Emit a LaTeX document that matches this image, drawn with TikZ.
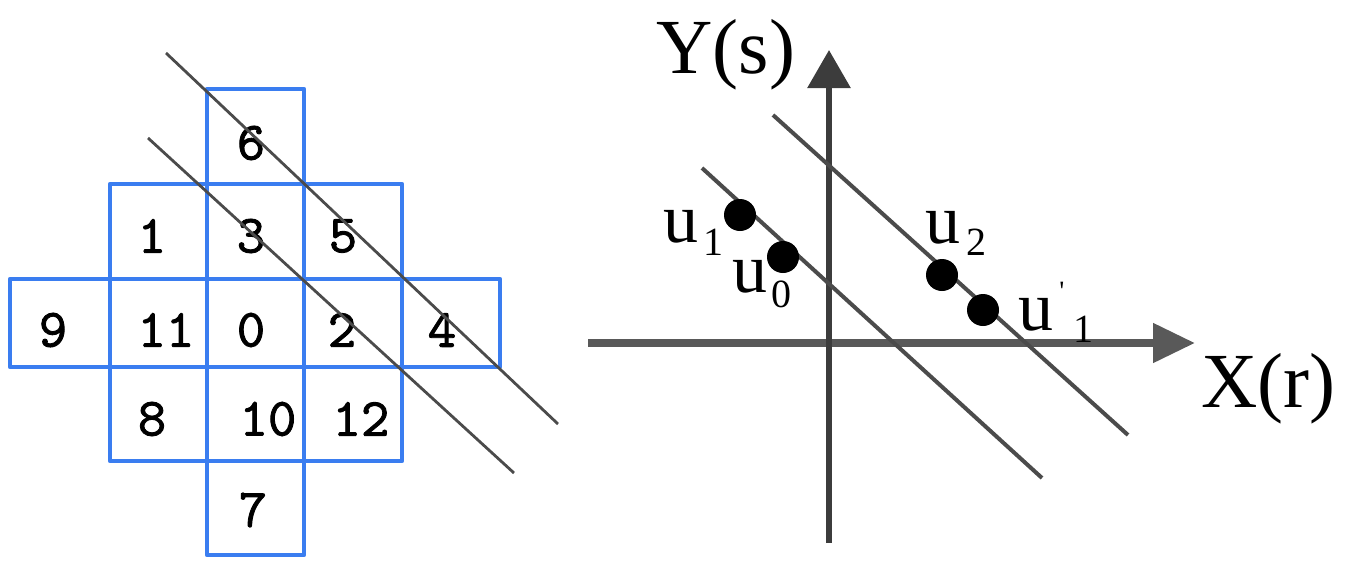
\documentclass[tikz,border=0pt]{standalone}
\usepackage{fontspec}
\setmainfont{Liberation Serif}
\newfontfamily\monob{lmmono10-regular.otf}[FakeBold=1.6]
\usetikzlibrary{arrows.meta}
\definecolor{gridblue}{RGB}{58,125,240}
\definecolor{linegray}{RGB}{75,75,75}
\definecolor{axisgray}{RGB}{60,60,60}
\newcommand\subt[2]{\raisebox{-#1}{\fontsize{20}{20}\selectfont #2}}
\begin{document}
\begin{tikzpicture}[x=0.5pt,y=-0.5pt,
  cell/.style={draw=gridblue, line width=2.2pt, line join=round},
  digit/.style={font=\monob\fontsize{27}{27}\selectfont, inner sep=0},
  diag/.style={draw=linegray, line width=1.4pt},
  rdiag/.style={draw=linegray, line width=2pt},
  xaxis/.style={draw=axisgray!85, line width=4pt, -{Triangle[length=21pt,width=19pt]}},
  yaxis/.style={draw=axisgray, line width=3pt, -{Triangle[length=19pt,width=21pt]}},
  dot/.style={circle, fill=black, minimum size=16pt, inner sep=0},
  lbl/.style={font=\fontsize{35}{35}\selectfont, inner sep=0, anchor=base west},
  axlbl/.style={font=\fontsize{39}{39}\selectfont, inner sep=0, anchor=base west}]
\useasboundingbox (0,0) rectangle (1350,568);

% ---- left: blue grid ----
\draw[cell] (207,89) rectangle (304,184);
\draw[cell] (110,184) rectangle (207,279);
\draw[cell] (207,184) rectangle (304,279);
\draw[cell] (304,184) rectangle (402,279);
\draw[cell] (10,279) rectangle (110,367);
\draw[cell] (110,279) rectangle (207,367);
\draw[cell] (207,279) rectangle (304,367);
\draw[cell] (304,279) rectangle (402,367);
\draw[cell] (402,279) rectangle (500,367);
\draw[cell] (110,367) rectangle (207,461);
\draw[cell] (207,367) rectangle (304,461);
\draw[cell] (304,367) rectangle (402,461);
\draw[cell] (207,461) rectangle (304,555);

\node[digit] (d6) at (251,143) {6};
\node[digit] (d1) at (152,236) {1};
\node[digit] (d3) at (251,236) {3};
\node[digit] (d5) at (343,236) {5};
\node[digit] (d9) at (53,330) {9};
\node[digit] (d11) at (166,330) {11};
\node[digit] (d0) at (251,330) {0};
\node[digit] (d2) at (342,330) {2};
\node[digit] (d4) at (442,330) {4};
\node[digit] (d8) at (152,419) {8};
\node[digit] (d10) at (268,419) {10};
\node[digit] (d12) at (361,419) {12};
\node[digit] (d7) at (253,510) {7};

\coordinate (la1) at (166,53);
\coordinate (la2) at (558,424);
\coordinate (lb1) at (148,138);
\coordinate (lb2) at (514,473);
\draw[diag] (la1) -- (la2);
\draw[diag] (lb1) -- (lb2);

% ---- right: axes ----
\coordinate (xs) at (588,343);
\coordinate (xe) at (1195,343);
\coordinate (ys) at (829,543);
\coordinate (ye) at (829,50);
\draw[xaxis] (xs) -- (xe);
\draw[yaxis] (ys) -- (ye);
\node[axlbl] (ylab) at (656,73) {Y(s)};
\node[axlbl] (xlab) at (1201,407) {X(r)};

\coordinate (r1a) at (702,168);
\coordinate (r1b) at (1042,478);
\coordinate (r2a) at (773,115);
\coordinate (r2b) at (1128,435);
\draw[rdiag] (r1a) -- (r1b);
\draw[rdiag] (r2a) -- (r2b);

\node[dot] (u1) at (740,215) {};
\node[dot] (u0) at (783,257) {};
\node[dot] (u2) at (942,275) {};
\node[dot] (u1p) at (983,310) {};

\node[lbl] (lu1) at (663,242) {u\hspace{2.5pt}\subt{6.5pt}{1}};
\node[lbl] (lu0) at (732,292) {u\hspace{2pt}\subt{7.5pt}{0}};
\node[lbl] (lu2) at (925,243) {u\hspace{3pt}\subt{6pt}{2}};
\node[lbl] (lu1p) at (1018,330) {u\rlap{\hspace{3pt}\raisebox{15pt}{\fontsize{14}{14}\selectfont\textquotesingle}}\hspace{10pt}\subt{6pt}{1}};
\end{tikzpicture}
\end{document}
